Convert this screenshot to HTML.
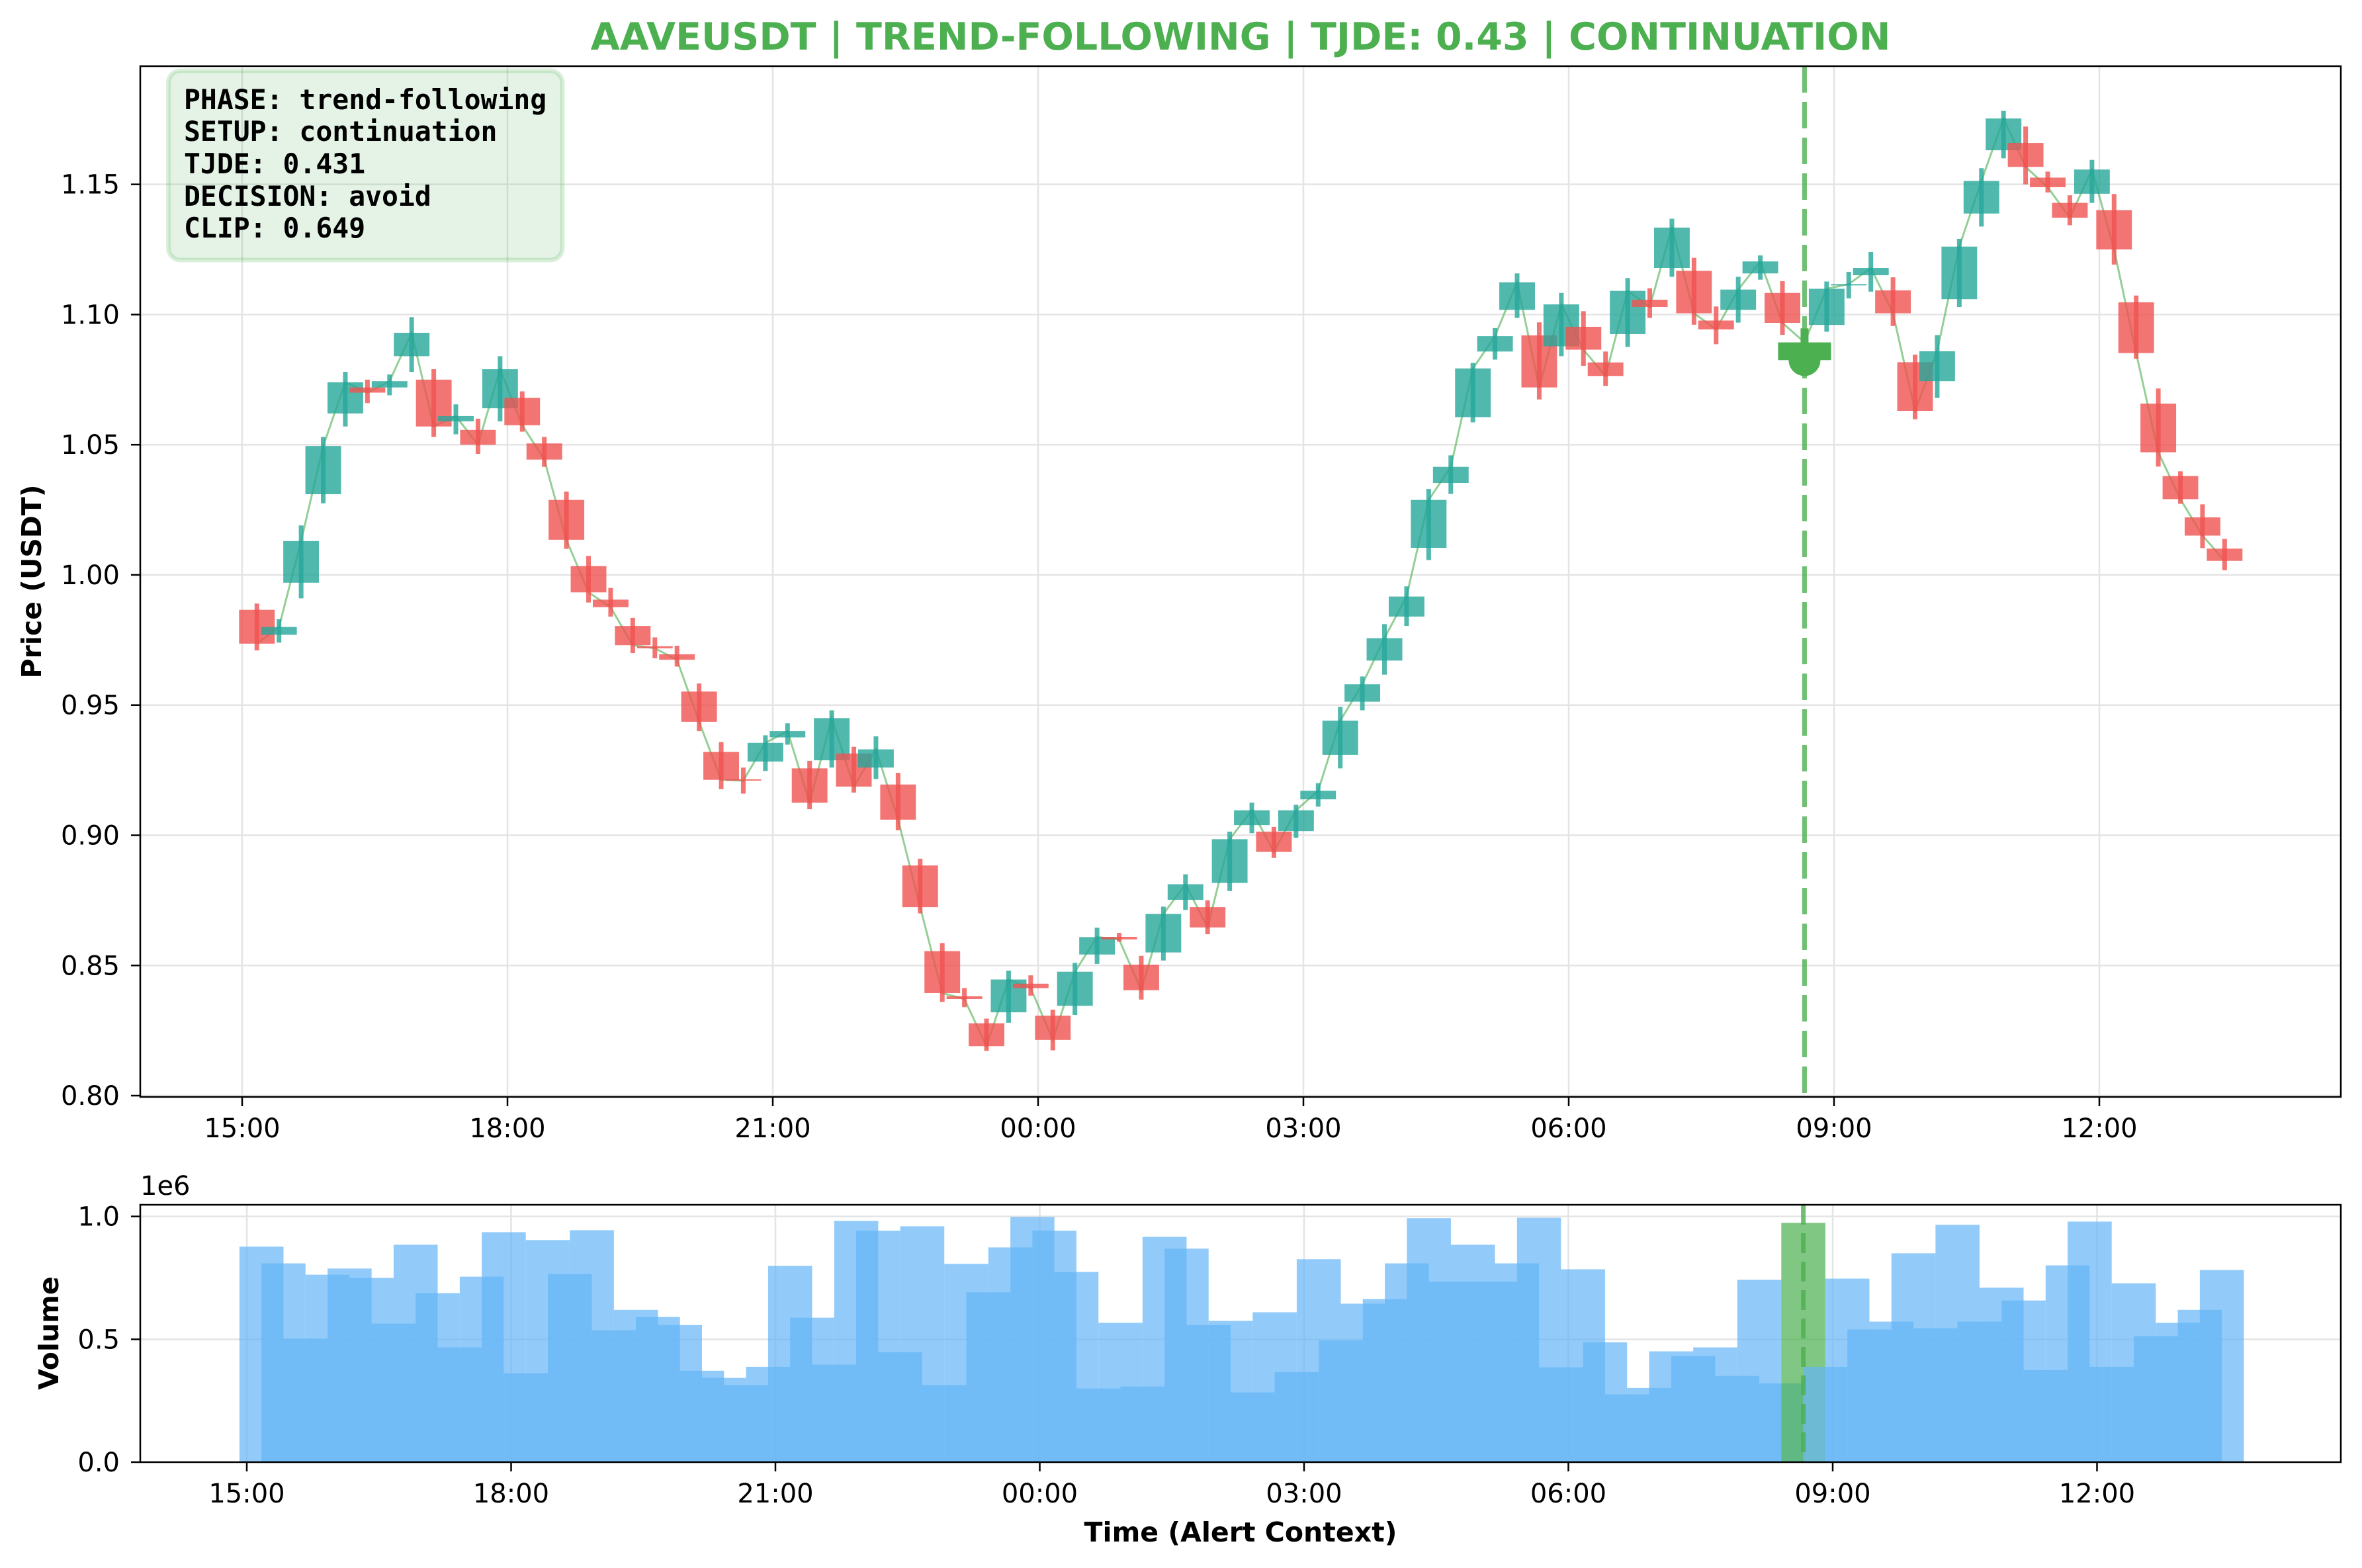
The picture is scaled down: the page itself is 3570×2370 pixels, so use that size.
<!DOCTYPE html>
<html><head><meta charset="utf-8"><style>
html,body{margin:0;padding:0;background:#fff}
svg{display:block}
text{font-family:"DejaVu Sans","Liberation Sans",sans-serif}
</style></head><body>
<svg id="chart" xmlns="http://www.w3.org/2000/svg" width="3570" height="2370" viewBox="0 0 3570 2370">
<rect x="0" y="0" width="3570" height="2370" fill="#fff"/>
<g id="mainGrid"></g>
<g id="volGrid"></g>
<rect x="254.5" y="107" width="595.5" height="286" rx="18" fill="rgba(76,175,80,0.15)" stroke="rgba(76,175,80,0.2)" stroke-width="7"/>
<g id="volBars"></g>
<g id="candles"></g>
<g id="marks"></g>
<g id="axes"></g>
<g font-weight="bold" font-size="41.4" fill="#000">
<text x="278" y="165" style="font-family:'DejaVu Sans Mono','Liberation Mono',monospace">PHASE: trend-following</text>
<text x="278" y="213" style="font-family:'DejaVu Sans Mono','Liberation Mono',monospace">SETUP: continuation</text>
<text x="278" y="262" style="font-family:'DejaVu Sans Mono','Liberation Mono',monospace">TJDE: 0.431</text>
<text x="278" y="311" style="font-family:'DejaVu Sans Mono','Liberation Mono',monospace">DECISION: avoid</text>
<text x="278" y="359" style="font-family:'DejaVu Sans Mono','Liberation Mono',monospace">CLIP: 0.649</text>
</g>
<text x="1875" y="75" text-anchor="middle" font-size="57" font-weight="bold" fill="#4caf50">AAVEUSDT | TREND-FOLLOWING | TJDE: 0.43 | CONTINUATION</text>
<text transform="translate(62,879) rotate(-90)" text-anchor="middle" font-size="41" font-weight="bold">Price (USDT)</text>
<text transform="translate(88,2015) rotate(-90)" text-anchor="middle" font-size="41" font-weight="bold">Volume</text>
<text x="1875" y="2330" text-anchor="middle" font-size="41" font-weight="bold">Time (Alert Context)</text>
<text x="212" y="1806" font-size="40">1e6</text>
</svg>
<script>
const opens=[.9866,.977,.997,1.031,1.062,1.072,1.072,1.084,1.075,1.059,1.0557,1.064,1.068,1.0505,1.0288,1.0034,.9905,.9804,.9726,.9695,.9552,.932,.9215,.9283,.9376,.9257,.9288,.9314,.926,.9195,.8884,.8555,.8382,.8278,.832,.843,.8307,.8345,.8542,.861,.8503,.855,.8752,.8724,.8817,.9039,.9014,.9016,.9138,.9309,.9513,.9671,.984,1.0104,1.0353,1.0606,1.0858,1.1018,1.092,1.0878,1.0953,1.0816,1.0925,1.1057,1.1179,1.1168,1.0977,1.1018,1.1158,1.1083,1.0825,1.096,1.1112,1.1151,1.1093,1.0817,1.0744,1.1059,1.1388,1.1631,1.1659,1.1526,1.1429,1.1464,1.1401,1.1047,1.0658,1.038,1.0221,1.0101];
const highs=[.989,.983,1.019,1.053,1.078,1.075,1.077,1.099,1.079,1.0655,1.06,1.084,1.0705,1.053,1.032,1.0073,.995,.9835,.976,.9728,.9583,.9358,.926,.9384,.943,.9286,.948,.934,.938,.924,.891,.8586,.8413,.8296,.848,.8462,.833,.851,.8645,.8625,.8537,.8726,.885,.875,.9014,.9125,.9032,.9117,.92,.9493,.961,.9811,.9956,1.033,1.0459,1.0814,1.0948,1.1158,1.097,1.1083,1.1013,1.0858,1.114,1.1101,1.1368,1.1218,1.1031,1.1145,1.1227,1.1128,1.0947,1.1127,1.1164,1.124,1.1143,1.0846,1.0921,1.1291,1.1562,1.1782,1.1722,1.1549,1.1458,1.1594,1.1463,1.1073,1.0716,1.0398,1.0271,1.0138];
const lows=[.971,.974,.991,1.0275,1.057,1.066,1.069,1.078,1.053,1.054,1.0465,1.059,1.055,1.0415,1.01,.9894,.984,.97,.968,.9648,.94,.9177,.916,.9247,.9348,.91,.926,.9164,.9216,.9019,.87,.836,.834,.8172,.828,.8384,.8174,.831,.8506,.8591,.8369,.8519,.8713,.862,.8786,.9008,.8913,.899,.911,.9257,.948,.9617,.9804,1.0057,1.0311,1.0586,1.0827,1.0987,1.0674,1.084,1.0803,1.0726,1.0876,1.0987,1.1145,1.0961,1.0886,1.0969,1.1134,1.0922,1.0825,1.0934,1.1062,1.1088,1.0956,1.0598,1.068,1.1029,1.1338,1.16,1.15,1.1469,1.1343,1.1429,1.1192,1.083,1.0416,1.0273,1.0103,1.0018];
const closes=[.9736,.98,1.013,1.0495,1.074,1.07,1.0744,1.093,1.057,1.061,1.05,1.079,1.0575,1.0443,1.0135,.9933,.9876,.973,.9718,.9674,.9436,.9213,.921,.9355,.94,.9125,.945,.9187,.933,.906,.8724,.8394,.8371,.819,.8446,.8413,.8214,.8476,.8609,.86,.8405,.8698,.8812,.8646,.8985,.9096,.8936,.9096,.9171,.944,.958,.9757,.9917,1.0288,1.0415,1.0793,1.0917,1.1124,1.072,1.1039,1.0865,1.0764,1.1091,1.1029,1.1334,1.1005,1.0943,1.1096,1.1204,1.0968,1.0893,1.1099,1.1117,1.1179,1.1005,1.063,1.0859,1.1261,1.1513,1.1753,1.1567,1.1489,1.1372,1.1557,1.125,1.0852,1.0471,1.0291,1.0151,1.0054];
const volumes=[.877,.809,.502,.763,.788,.75,.564,.885,.688,.467,.755,.936,.362,.904,.766,.944,.537,.62,.591,.558,.372,.343,.314,.388,.799,.588,.397,.982,.942,.448,.96,.314,.807,.691,.874,.998,.942,.774,.30,.567,.308,.917,.869,.558,.575,.284,.61,.367,.826,.496,.645,.664,.809,.993,.734,.885,.734,.809,.995,.386,.785,.488,.276,.302,.451,.432,.467,.351,.742,.321,.974,.388,.747,.54,.572,.85,.545,.966,.572,.71,.658,.375,.801,.979,.388,.728,.513,.567,.62,.782];
const priceTicks=[0.80,0.85,0.90,0.95,1.00,1.05,1.10,1.15];
const volTicks=[0.0,0.5,1.0];
const timeTicks=[0,180,360,540,720,900,1080,1260];
const timeLabels=["15:00","18:00","21:00","00:00","03:00","06:00","09:00","12:00"];
const alertIndex=70;
const firstOffsetMin=10, stepMin=15;

const NS="http://www.w3.org/2000/svg";
function mk(tag,attrs,parent){const e=document.createElementNS(NS,tag);for(const k in attrs)e.setAttribute(k,attrs[k]);parent.appendChild(e);return e;}
const mL=212,mR=3538,mT=100,mB=1658,vT=1821,vB=2210;
const pMin=0.7995,pMax=1.1954,vMax=1.0475;
function xMain(m){return 366+m/180*401;}
function xVol(m){return 373+m/180*399.5;}
function yP(p){return mT+(pMax-p)/(pMax-pMin)*(mB-mT);}
function yV(v){return vB-v/vMax*(vB-vT);}
function tMin(i){return firstOffsetMin+stepMin*i;}

const gMain=document.getElementById('mainGrid'),gVolG=document.getElementById('volGrid');
const gVol=document.getElementById('volBars'),gC=document.getElementById('candles');
const gM=document.getElementById('marks'),gA=document.getElementById('axes');
const gridCol="#e4e4e4";
timeTicks.forEach((t,k)=>{
  let l=mk('line',{x1:xMain(t),x2:xMain(t),y1:mT,y2:mB,stroke:gridCol,'stroke-width':2.5},gMain);
  
  
  let l2=mk('line',{x1:xVol(t),x2:xVol(t),y1:vT,y2:vB,stroke:gridCol,'stroke-width':2.5},gVolG);
  
  
});
priceTicks.forEach(p=>{
  let l=mk('line',{x1:mL,x2:mR,y1:yP(p),y2:yP(p),stroke:gridCol,'stroke-width':2.5},gMain);
  
  
});
volTicks.forEach(v=>{
  let l=mk('line',{x1:mL,x2:mR,y1:yV(v),y2:yV(v),stroke:gridCol,'stroke-width':2.5},gVolG);
  
  
});
const halfBar=stepMin;
volumes.forEach((v,i)=>{
  const x0=xVol(tMin(i)-halfBar),x1=xVol(tMin(i)+halfBar);
  const r=mk('rect',{x:x0,y:yV(v),width:x1-x0,height:vB-yV(v),fill:i===alertIndex?'#4caf50':'#64b5f6','fill-opacity':0.7},gVol);
  
  
});
const pts=closes.map((c,i)=>xMain(tMin(i)).toFixed(1)+','+yP(c).toFixed(1)).join(' ');
const pl=mk('polyline',{points:pts,fill:'none',stroke:'#4caf50','stroke-opacity':0.6,'stroke-width':3},gC);


const bodyHalf=12.1, wickHalf=3.5;
opens.forEach((o,i)=>{
  const c=closes[i],h=highs[i],l=lows[i],x=xMain(tMin(i));
  if(i===alertIndex)return;
  const col=c>=o?'#26a69a':'#ef5350';
  const bw=xMain(tMin(i)+bodyHalf)-x;
  const top=yP(Math.max(o,c)),bot=yP(Math.min(o,c));
  const b=mk('rect',{x:x-bw,y:top,width:2*bw,height:Math.max(bot-top,2),fill:col,'fill-opacity':0.8},gC);
  
  
  const w=mk('rect',{x:x-wickHalf,y:yP(h),width:2*wickHalf,height:yP(l)-yP(h),fill:col,'fill-opacity':0.8},gC);
  
  
});
(function(){
  const i=alertIndex,x=xMain(tMin(i));
  const o=opens[i],c=closes[i],h=highs[i],l=lows[i];
  const bw=40;
  const b=mk('rect',{x:x-bw,y:yP(Math.max(o,c)),width:2*bw,height:yP(Math.min(o,c))-yP(Math.max(o,c)),fill:'#4caf50'},gM);
  
  
  const w=mk('rect',{x:x-6,y:yP(h),width:12,height:yP(Math.max(o,c))-yP(h),fill:'#4caf50'},gM);
  
  
  const dot=mk('circle',{cx:x,cy:yP(l),r:24,fill:'#4caf50'},gM);
  
  
  const vl=mk('line',{x1:x,x2:x,y1:mT,y2:mB,stroke:'#4caf50','stroke-opacity':0.8,'stroke-width':7,'stroke-dasharray':'40 14'},gM);
  
  
  const xv=xVol(tMin(i));
  const vl2=mk('line',{x1:xv,x2:xv,y1:vT,y2:vB,stroke:'#4caf50','stroke-opacity':0.8,'stroke-width':7,'stroke-dasharray':'30 13'},gM);
  
  
})();
const s1=mk('rect',{x:mL,y:mT,width:mR-mL,height:mB-mT,fill:'none',stroke:'#000','stroke-width':2.5},gA);


const s2=mk('rect',{x:mL,y:vT,width:mR-mL,height:vB-vT,fill:'none',stroke:'#000','stroke-width':2.5},gA);


timeTicks.forEach((t,k)=>{
  let x=xMain(t);
  let tk=mk('line',{x1:x,x2:x,y1:mB,y2:mB+14,stroke:'#000','stroke-width':2.5},gA);
  
  
  let tx=mk('text',{x:x,y:1719,'text-anchor':'middle','font-size':40},gA);tx.textContent=timeLabels[k];
  
  
  let xv=xVol(t);
  let tk2=mk('line',{x1:xv,x2:xv,y1:vB,y2:vB+14,stroke:'#000','stroke-width':2.5},gA);
  
  
  let tx2=mk('text',{x:xv,y:2271,'text-anchor':'middle','font-size':40},gA);tx2.textContent=timeLabels[k];
  
  
});
priceTicks.forEach(p=>{
  let y=yP(p);
  let tk=mk('line',{x1:mL-14,x2:mL,y1:y,y2:y,stroke:'#000','stroke-width':2.5},gA);
  
  
  let tx=mk('text',{x:181,y:y+14,'text-anchor':'end','font-size':40},gA);tx.textContent=p.toFixed(2);
  
  
});
volTicks.forEach(v=>{
  let y=yV(v);
  let tk=mk('line',{x1:mL-14,x2:mL,y1:y,y2:y,stroke:'#000','stroke-width':2.5},gA);
  
  
  let tx=mk('text',{x:181,y:y+14,'text-anchor':'end','font-size':40},gA);tx.textContent=v.toFixed(1);
  
  
});
</script>
</body></html>
